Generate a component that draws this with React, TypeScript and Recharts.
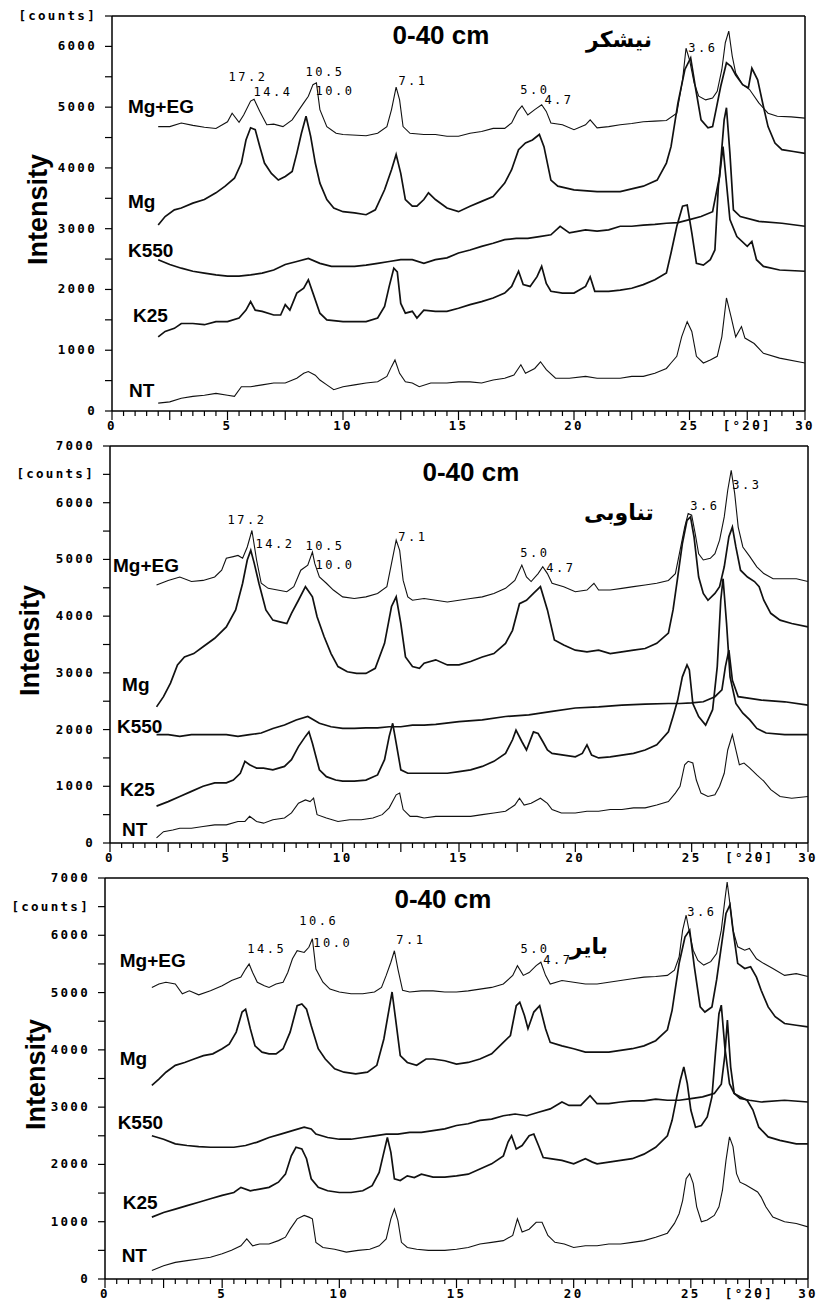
import React from 'react';
import { LineChart, Line, XAxis, YAxis, ReferenceLine, ReferenceDot } from 'recharts';

type Pt = [number, number];

// ---- panel 1 (نیشکر) : [2theta, counts]
const p1MgEG: Pt[] = [[2.0,4680],[2.5,4680],[3.0,4740],[3.5,4700],[4.0,4670],[4.5,4650],[5.0,4760],[5.2,4900],[5.5,4750],[5.7,4870],[6.0,5100],[6.15,5130],[6.4,4930],[6.7,4710],[7.0,4720],[7.4,4680],[7.8,4790],[8.1,4960],[8.3,5070],[8.5,5180],[8.7,5370],[8.85,5400],[9.0,4960],[9.3,4680],[9.7,4570],[10.0,4550],[11.0,4530],[11.5,4570],[11.9,4680],[12.1,4960],[12.3,5330],[12.45,5120],[12.6,4680],[12.9,4570],[13.5,4550],[14.0,4550],[14.5,4520],[15.0,4520],[15.5,4570],[16.0,4600],[16.5,4650],[17.0,4650],[17.3,4740],[17.55,4930],[17.75,5020],[18.0,4870],[18.3,4960],[18.6,5040],[18.8,4930],[19.0,4740],[19.5,4710],[20.0,4630],[20.5,4710],[20.7,4790],[21.0,4660],[21.5,4680],[22.0,4710],[22.5,4730],[23.0,4760],[23.5,4770],[24.0,4780],[24.45,4900],[24.7,5450],[24.85,5970],[25.0,5780],[25.2,5400],[25.4,5180],[25.7,5120],[26.0,5150],[26.2,5260],[26.4,5620],[26.55,6060],[26.7,6250],[26.85,5840],[27.0,5560],[27.3,5370],[27.6,5290],[28.0,5070],[28.4,4900],[28.8,4850],[29.4,4840],[30.0,4820]];
const p1Mg: Pt[] = [[2.0,3060],[2.3,3200],[2.7,3310],[3.0,3340],[3.5,3420],[4.0,3480],[4.5,3590],[4.9,3700],[5.3,3830],[5.6,4080],[5.8,4460],[6.0,4660],[6.2,4630],[6.4,4350],[6.6,4080],[6.9,3910],[7.2,3800],[7.5,3860],[7.8,3940],[8.0,4240],[8.2,4570],[8.4,4850],[8.6,4520],[8.8,4080],[9.0,3750],[9.3,3480],[9.6,3340],[10.0,3280],[10.5,3260],[11.0,3230],[11.4,3310],[11.8,3640],[12.1,3970],[12.3,4220],[12.5,3910],[12.7,3480],[13.0,3370],[13.2,3370],[13.5,3480],[13.7,3590],[14.0,3480],[14.5,3340],[15.0,3280],[15.5,3370],[16.0,3450],[16.5,3530],[17.0,3750],[17.3,3970],[17.6,4300],[17.9,4410],[18.2,4460],[18.5,4550],[18.7,4350],[19.0,3800],[19.3,3700],[20.0,3640],[21.0,3610],[22.0,3610],[23.0,3700],[23.6,3800],[24.0,4080],[24.2,4350],[24.5,5070],[24.8,5620],[25.05,5810],[25.25,5340],[25.5,4790],[25.8,4660],[26.0,4680],[26.15,4960],[26.35,5340],[26.6,5730],[26.8,5670],[27.0,5530],[27.3,5370],[27.55,5320],[27.7,5640],[27.95,5450],[28.2,5010],[28.4,4680],[28.7,4410],[29.0,4300],[29.5,4270],[30.0,4240]];
const p1K550: Pt[] = [[2.0,2490],[2.5,2410],[3.0,2350],[3.5,2300],[4.0,2270],[4.5,2240],[5.0,2220],[5.5,2220],[6.0,2240],[6.5,2270],[7.0,2320],[7.5,2410],[8.0,2460],[8.5,2510],[9.0,2430],[9.5,2380],[10.0,2380],[10.5,2380],[11.0,2400],[11.5,2430],[12.0,2460],[12.5,2490],[13.0,2490],[13.5,2430],[14.0,2490],[14.5,2520],[15.0,2600],[15.5,2650],[16.0,2710],[16.5,2760],[17.0,2820],[17.5,2840],[18.0,2840],[18.5,2870],[19.0,2900],[19.4,3040],[19.8,2930],[20.5,2980],[21.0,2960],[21.5,2980],[22.0,3040],[22.5,3040],[23.0,3060],[23.5,3070],[24.0,3090],[24.5,3100],[25.0,3150],[25.5,3200],[26.0,3280],[26.3,3860],[26.5,4790],[26.6,4990],[26.75,4240],[26.9,3310],[27.2,3200],[28.0,3120],[29.0,3090],[30.0,3040]];
const p1K25: Pt[] = [[2.0,1220],[2.3,1310],[2.7,1360],[3.0,1440],[3.5,1440],[4.0,1420],[4.5,1470],[5.0,1470],[5.5,1530],[5.8,1660],[6.0,1800],[6.2,1660],[6.5,1640],[7.0,1580],[7.3,1580],[7.5,1750],[7.7,1660],[8.0,1940],[8.3,2020],[8.5,2160],[8.7,1940],[9.0,1610],[9.3,1500],[10.0,1470],[10.5,1470],[11.0,1470],[11.5,1530],[11.8,1720],[12.0,2050],[12.2,2350],[12.35,2290],[12.5,1770],[12.7,1610],[13.0,1640],[13.2,1530],[13.5,1660],[14.0,1640],[14.5,1640],[15.0,1690],[15.5,1750],[16.0,1800],[16.5,1860],[17.0,1940],[17.3,2050],[17.6,2300],[17.8,2080],[18.1,2050],[18.4,2210],[18.6,2380],[18.8,2100],[19.0,1970],[19.5,1940],[20.0,1940],[20.5,2050],[20.7,2210],[20.9,1970],[21.5,1970],[22.0,1990],[22.5,2020],[23.0,2080],[23.5,2160],[24.0,2270],[24.2,2600],[24.45,3040],[24.7,3370],[24.9,3390],[25.1,2930],[25.3,2430],[25.6,2400],[25.9,2490],[26.1,2650],[26.25,3700],[26.45,4350],[26.75,3150],[27.05,2870],[27.5,2710],[27.7,2790],[27.9,2490],[28.2,2380],[28.9,2320],[30.0,2300]];
const p1NT: Pt[] = [[2.0,130],[2.5,150],[3.0,210],[3.5,240],[4.0,260],[4.5,290],[5.0,260],[5.3,240],[5.6,400],[6.0,400],[6.5,430],[7.0,460],[7.5,460],[8.0,540],[8.3,620],[8.5,650],[8.8,590],[9.0,510],[9.3,430],[9.6,350],[10.0,400],[10.5,430],[11.0,460],[11.5,480],[11.9,570],[12.1,730],[12.25,840],[12.45,620],[12.7,480],[13.0,460],[13.3,400],[13.8,460],[14.5,460],[15.0,480],[15.5,480],[16.0,460],[16.5,510],[17.0,540],[17.4,590],[17.7,760],[17.9,620],[18.3,700],[18.55,810],[18.8,680],[19.2,540],[19.8,540],[20.5,570],[21.0,540],[21.5,540],[22.0,540],[22.5,570],[23.0,570],[23.5,620],[24.0,700],[24.2,790],[24.45,900],[24.66,1220],[24.9,1470],[25.1,1310],[25.3,900],[25.6,790],[25.9,840],[26.2,900],[26.4,1220],[26.6,1860],[26.8,1550],[27.0,1220],[27.25,1390],[27.4,1200],[27.8,1110],[28.2,950],[28.9,870],[30.0,790]];

// ---- panel 2 (تناوبی)
const p2MgEG: Pt[] = [[2.0,4550],[2.5,4630],[3.0,4690],[3.5,4610],[4.0,4630],[4.5,4690],[4.8,4810],[5.0,5020],[5.3,5050],[5.5,5070],[5.7,5020],[5.9,5220],[6.1,5510],[6.3,4990],[6.5,4580],[6.8,4490],[7.2,4460],[7.6,4430],[7.9,4520],[8.2,4810],[8.5,4900],[8.7,5130],[8.8,4930],[9.0,4690],[9.3,4580],[9.6,4460],[10.0,4340],[10.5,4310],[11.0,4340],[11.5,4400],[11.9,4520],[12.1,4930],[12.3,5340],[12.45,5160],[12.6,4630],[12.8,4340],[13.0,4280],[13.5,4310],[14.0,4280],[14.5,4250],[15.0,4280],[15.5,4310],[16.0,4340],[16.5,4400],[17.0,4490],[17.4,4630],[17.7,4900],[17.9,4690],[18.1,4610],[18.4,4750],[18.6,4870],[18.8,4750],[19.0,4580],[19.5,4520],[20.0,4430],[20.5,4460],[20.8,4580],[21.0,4460],[21.5,4460],[22.0,4490],[22.5,4520],[23.0,4550],[23.5,4580],[24.0,4630],[24.3,4750],[24.5,5160],[24.7,5570],[24.85,5810],[25.0,5780],[25.15,5460],[25.3,5100],[25.5,4990],[25.8,5020],[26.0,5100],[26.2,5340],[26.4,5750],[26.55,6220],[26.7,6570],[26.85,6160],[27.0,5570],[27.2,5220],[27.5,5050],[27.8,4870],[28.1,4750],[28.5,4660],[29.0,4660],[29.5,4660],[30.0,4610]];
const p2Mg: Pt[] = [[2.0,2400],[2.3,2580],[2.6,2820],[2.9,3140],[3.2,3280],[3.6,3340],[4.0,3460],[4.5,3610],[5.0,3810],[5.4,4110],[5.7,4580],[5.9,4990],[6.05,5160],[6.2,4930],[6.4,4580],[6.7,4110],[7.0,3930],[7.3,3900],[7.6,3870],[7.8,4050],[8.1,4280],[8.4,4520],[8.7,4340],[8.9,3990],[9.2,3640],[9.5,3340],[9.8,3110],[10.2,3020],[10.6,2990],[11.0,2990],[11.4,3080],[11.8,3520],[12.1,4170],[12.3,4340],[12.5,3870],[12.7,3280],[13.0,3110],[13.3,3080],[13.5,3170],[14.0,3230],[14.5,3140],[15.0,3140],[15.5,3200],[16.0,3280],[16.5,3340],[17.0,3520],[17.3,3750],[17.6,4220],[17.9,4280],[18.2,4400],[18.5,4520],[18.8,4110],[19.1,3580],[19.5,3490],[20.0,3400],[20.5,3370],[21.0,3400],[21.5,3340],[22.0,3370],[22.5,3400],[23.0,3430],[23.5,3520],[24.0,3700],[24.2,4110],[24.4,4690],[24.6,5280],[24.8,5690],[24.95,5750],[25.1,5400],[25.3,4690],[25.5,4400],[25.7,4280],[26.0,4400],[26.2,4520],[26.4,4870],[26.6,5400],[26.75,5570],[26.9,5220],[27.1,4810],[27.4,4690],[27.7,4610],[27.9,4520],[28.1,4280],[28.4,4050],[28.8,3930],[29.3,3870],[30.0,3810]];
const p2K550: Pt[] = [[2.0,1910],[2.5,1910],[3.0,1880],[3.5,1910],[4.0,1910],[4.5,1910],[5.0,1910],[5.5,1880],[6.0,1910],[6.5,1940],[7.0,2020],[7.5,2080],[8.0,2170],[8.5,2230],[9.0,2110],[9.5,2050],[10.0,2020],[10.5,2020],[11.0,2030],[11.5,2030],[12.0,2050],[12.5,2050],[13.0,2080],[13.5,2080],[14.0,2090],[15.0,2140],[16.0,2170],[17.0,2230],[18.0,2260],[19.0,2320],[20.0,2380],[21.0,2400],[22.0,2430],[23.0,2450],[24.0,2460],[24.5,2460],[25.0,2470],[25.5,2490],[26.0,2580],[26.3,2700],[26.45,3110],[26.6,3400],[26.75,2870],[27.0,2580],[27.5,2550],[28.0,2520],[29.0,2490],[30.0,2430]];
const p2K25: Pt[] = [[2.0,650],[2.5,730],[3.0,820],[3.5,910],[4.0,1000],[4.5,1060],[5.0,1060],[5.3,1110],[5.6,1230],[5.8,1440],[6.0,1380],[6.3,1320],[6.6,1320],[7.0,1290],[7.5,1350],[7.8,1470],[8.1,1700],[8.4,1880],[8.55,1960],[8.7,1760],[9.0,1290],[9.3,1170],[9.7,1110],[10.0,1090],[10.5,1090],[11.0,1110],[11.5,1200],[11.8,1470],[12.0,1880],[12.15,2110],[12.3,1760],[12.5,1290],[12.8,1230],[13.0,1230],[13.5,1230],[14.0,1230],[14.5,1230],[15.0,1260],[15.5,1290],[16.0,1350],[16.5,1440],[17.0,1580],[17.3,1820],[17.45,1990],[17.7,1790],[17.9,1640],[18.2,1960],[18.4,1930],[18.6,1790],[18.8,1640],[19.0,1580],[19.5,1550],[20.0,1520],[20.3,1580],[20.5,1730],[20.7,1550],[21.0,1500],[21.5,1520],[22.0,1550],[22.5,1580],[23.0,1640],[23.5,1730],[24.0,1960],[24.2,2230],[24.4,2520],[24.6,2930],[24.8,3140],[24.9,3050],[25.05,2460],[25.3,2230],[25.6,2080],[25.9,2350],[26.1,3110],[26.25,4280],[26.35,4660],[26.5,3870],[26.65,2930],[26.9,2460],[27.2,2290],[27.5,2170],[27.8,2020],[28.2,1940],[29.0,1910],[30.0,1910]];
const p2NT: Pt[] = [[2.0,90],[2.3,200],[2.7,230],[3.0,260],[3.5,260],[4.0,290],[4.5,320],[5.0,320],[5.5,380],[5.8,380],[6.0,470],[6.3,380],[6.6,350],[7.0,410],[7.5,440],[7.8,530],[8.1,700],[8.4,760],[8.6,730],[8.75,790],[8.9,500],[9.3,440],[9.8,380],[10.3,410],[10.8,410],[11.3,440],[11.7,500],[12.0,620],[12.3,850],[12.45,880],[12.6,590],[12.9,470],[13.2,470],[13.5,440],[14.0,470],[14.5,470],[15.0,470],[15.5,470],[16.0,500],[16.5,530],[17.0,560],[17.4,670],[17.6,790],[17.8,670],[18.1,700],[18.5,790],[18.8,700],[19.0,590],[19.4,530],[20.0,530],[20.5,560],[21.0,560],[21.5,590],[22.0,590],[22.5,620],[23.0,620],[23.5,670],[24.0,730],[24.3,880],[24.5,1000],[24.7,1380],[24.85,1440],[25.05,1410],[25.2,1110],[25.4,880],[25.7,820],[26.0,850],[26.2,1000],[26.4,1230],[26.55,1640],[26.75,1910],[26.9,1640],[27.05,1380],[27.25,1410],[27.5,1320],[27.8,1200],[28.1,1090],[28.4,940],[28.8,820],[29.3,790],[30.0,820]];

// ---- panel 3 (بایر)
const p3MgEG: Pt[] = [[2.0,5090],[2.3,5150],[2.6,5180],[3.0,5150],[3.3,4980],[3.6,5030],[4.0,4960],[4.5,5030],[5.0,5120],[5.4,5210],[5.8,5270],[6.0,5410],[6.15,5500],[6.3,5350],[6.5,5180],[6.8,5120],[7.0,5090],[7.3,5150],[7.6,5180],[7.8,5350],[8.0,5590],[8.2,5730],[8.5,5700],[8.7,5790],[8.85,5940],[9.0,5410],[9.3,5180],[9.6,5060],[10.0,5010],[10.5,4980],[11.0,4980],[11.5,5010],[11.8,5090],[12.0,5300],[12.2,5530],[12.35,5730],[12.5,5410],[12.7,5040],[13.0,5010],[13.5,5030],[14.0,5030],[14.5,5010],[15.0,5010],[15.5,5030],[16.0,5060],[16.5,5090],[17.0,5150],[17.4,5300],[17.6,5470],[17.85,5300],[18.1,5350],[18.4,5470],[18.6,5530],[18.8,5300],[19.0,5150],[19.5,5210],[20.0,5180],[20.5,5150],[21.0,5150],[21.5,5180],[22.0,5210],[22.5,5240],[23.0,5270],[23.5,5280],[24.0,5300],[24.3,5390],[24.5,5620],[24.65,6090],[24.8,6350],[24.95,6030],[25.1,5740],[25.3,5560],[25.55,5480],[25.85,5540],[26.1,5680],[26.3,6090],[26.45,6610],[26.55,6930],[26.65,6610],[26.8,6090],[27.0,5800],[27.3,5740],[27.5,5770],[27.8,5590],[28.1,5510],[28.5,5420],[29.0,5300],[29.5,5330],[30.0,5280]];
const p3Mg: Pt[] = [[2.0,3380],[2.3,3490],[2.6,3610],[3.0,3730],[3.4,3780],[3.8,3840],[4.2,3900],[4.6,3930],[5.0,4020],[5.3,4100],[5.6,4310],[5.85,4660],[6.0,4710],[6.2,4370],[6.4,4070],[6.7,3960],[7.0,3930],[7.3,3930],[7.6,4020],[7.9,4310],[8.2,4770],[8.4,4800],[8.6,4710],[8.8,4420],[9.1,4020],[9.4,3840],[9.8,3670],[10.2,3610],[10.7,3580],[11.2,3610],[11.6,3730],[11.9,4190],[12.1,4660],[12.25,5010],[12.4,4540],[12.6,3900],[12.9,3780],[13.3,3730],[13.7,3840],[14.0,3840],[14.5,3810],[15.0,3750],[15.5,3780],[16.0,3840],[16.5,3930],[17.0,4130],[17.3,4250],[17.55,4770],[17.7,4830],[17.9,4600],[18.05,4370],[18.3,4660],[18.55,4770],[18.8,4370],[19.0,4130],[19.5,4070],[20.0,4020],[20.5,3960],[21.0,3960],[21.5,3960],[22.0,3990],[22.5,4020],[23.0,4070],[23.5,4160],[24.0,4350],[24.2,4690],[24.5,5510],[24.75,5970],[24.95,6090],[25.15,5450],[25.4,4750],[25.6,4660],[25.9,4750],[26.1,5220],[26.3,5800],[26.5,6380],[26.67,6530],[26.8,6090],[27.0,5510],[27.3,5420],[27.55,5450],[27.8,5270],[28.0,5040],[28.3,4750],[28.6,4580],[29.0,4460],[29.5,4430],[30.0,4400]];
const p3K550: Pt[] = [[2.0,2500],[2.5,2440],[3.0,2360],[3.5,2330],[4.0,2310],[4.5,2300],[5.0,2300],[5.5,2300],[6.0,2330],[6.5,2390],[7.0,2470],[7.5,2530],[8.0,2590],[8.5,2650],[8.8,2620],[9.0,2530],[9.5,2470],[10.0,2440],[10.5,2440],[11.0,2470],[11.5,2500],[12.0,2530],[12.5,2530],[13.0,2560],[13.5,2560],[14.0,2590],[14.5,2620],[15.0,2680],[15.5,2710],[16.0,2770],[16.5,2790],[17.0,2850],[17.5,2880],[18.0,2850],[18.5,2910],[19.0,2970],[19.5,3090],[19.8,3030],[20.3,3030],[20.7,3200],[21.0,3060],[21.5,3060],[22.0,3090],[22.5,3110],[23.0,3110],[23.5,3140],[24.0,3120],[24.5,3120],[25.0,3150],[25.5,3180],[26.0,3240],[26.3,3400],[26.45,3900],[26.56,4520],[26.7,3700],[26.85,3240],[27.1,3150],[27.5,3120],[28.0,3090],[29.0,3120],[30.0,3090]];
const p3K25: Pt[] = [[2.0,1080],[2.5,1160],[3.0,1220],[3.5,1280],[4.0,1340],[4.5,1400],[5.0,1460],[5.5,1510],[5.8,1600],[6.2,1540],[6.6,1570],[7.0,1600],[7.4,1690],[7.7,1830],[7.95,2150],[8.15,2300],[8.4,2270],[8.6,2100],[8.8,1750],[9.1,1600],[9.5,1540],[10.0,1510],[10.5,1510],[11.0,1540],[11.4,1630],[11.7,1860],[11.9,2210],[12.05,2470],[12.2,2210],[12.35,1750],[12.6,1720],[12.9,1800],[13.2,1770],[13.5,1830],[14.0,1780],[14.5,1780],[15.0,1800],[15.5,1830],[16.0,1920],[16.5,2010],[17.0,2150],[17.2,2390],[17.35,2500],[17.55,2270],[17.8,2330],[18.1,2500],[18.3,2530],[18.5,2330],[18.7,2120],[19.0,2100],[19.5,2070],[20.0,2010],[20.5,2100],[20.8,2040],[21.0,2010],[21.5,2040],[22.0,2070],[22.5,2100],[23.0,2180],[23.5,2300],[24.0,2500],[24.2,2770],[24.4,3180],[24.55,3470],[24.7,3700],[24.85,3410],[25.0,2950],[25.2,2650],[25.45,2680],[25.7,2830],[25.9,3180],[26.05,3940],[26.2,4630],[26.3,4780],[26.45,4050],[26.65,3410],[26.85,3240],[27.1,3180],[27.4,3120],[27.65,2950],[27.9,2650],[28.3,2480],[28.8,2420],[29.5,2360],[30.0,2360]];
const p3NT: Pt[] = [[2.0,150],[2.5,230],[3.0,290],[3.5,320],[4.0,350],[4.5,380],[5.0,440],[5.4,500],[5.8,580],[6.05,700],[6.3,580],[6.6,610],[7.0,610],[7.4,670],[7.7,730],[7.9,870],[8.2,1050],[8.5,1110],[8.7,1080],[8.85,1050],[9.0,640],[9.3,550],[9.8,520],[10.3,470],[10.8,500],[11.3,520],[11.7,580],[12.0,700],[12.2,1050],[12.35,1220],[12.5,1020],[12.65,640],[12.9,550],[13.3,520],[13.8,500],[14.5,500],[15.0,520],[15.5,550],[16.0,610],[16.5,640],[17.0,670],[17.4,760],[17.6,1050],[17.8,820],[18.1,870],[18.4,990],[18.65,990],[18.9,760],[19.2,640],[19.6,610],[20.0,550],[20.5,580],[21.0,580],[21.5,610],[22.0,610],[22.5,640],[23.0,670],[23.5,730],[24.0,800],[24.3,970],[24.5,1140],[24.65,1370],[24.8,1750],[24.95,1840],[25.1,1670],[25.25,1260],[25.45,1000],[25.7,1030],[26.0,1110],[26.2,1260],[26.35,1550],[26.5,2070],[26.65,2480],[26.8,2310],[26.95,1840],[27.1,1690],[27.35,1640],[27.6,1580],[27.85,1520],[28.0,1430],[28.2,1260],[28.5,1080],[29.0,1000],[29.5,970],[30.0,910]];

// trace names, in drawing order, and where their names sit (left edge)
const traceNames = ['Mg+EG', 'Mg', 'K550', 'K25', 'NT'];
const p1NameSpots: Pt[] = [[0.69,5010],[0.69,3440],[0.69,2640],[0.91,1570],[0.74,330]];
const p2NameSpots: Pt[] = [[0.13,4900],[0.52,2790],[0.30,2060],[0.43,940],[0.52,230]];
const p3NameSpots: Pt[] = [[0.63,5560],[0.63,3850],[0.54,2740],[0.76,1340],[0.71,410]];

// d-spacing notes (Å) over the peaks
const p1Peaks = [
  { text: '17.2', t: 5.89, c: 5490 }, { text: '14.4', t: 6.97, c: 5250 },
  { text: '10.5', t: 9.22, c: 5580 }, { text: '10.0', t: 9.65, c: 5270 },
  { text: '7.1', t: 13.03, c: 5430 }, { text: '5.0', t: 18.31, c: 5290 },
  { text: '4.7', t: 19.35, c: 5120 }, { text: '3.6', t: 25.58, c: 5980 },
];
const p2Peaks = [
  { text: '17.2', t: 5.89, c: 5690 }, { text: '14.2', t: 7.09, c: 5270 },
  { text: '10.5', t: 9.24, c: 5230 }, { text: '10.0', t: 9.67, c: 4900 },
  { text: '7.1', t: 13.02, c: 5390 }, { text: '5.0', t: 18.26, c: 5110 },
  { text: '4.7', t: 19.38, c: 4850 }, { text: '3.6', t: 25.57, c: 5940 },
  { text: '3.3', t: 27.37, c: 6310 },
];
const p3Peaks = [
  { text: '14.5', t: 6.9, c: 5760 }, { text: '10.6', t: 9.12, c: 6250 },
  { text: '10.0', t: 9.72, c: 5860 }, { text: '7.1', t: 13.05, c: 5910 },
  { text: '5.0', t: 18.35, c: 5760 }, { text: '4.7', t: 19.33, c: 5560 },
  { text: '3.6', t: 25.47, c: 6400 },
];

const xTicks = Array.from({ length: 61 }, (_, i) => i * 0.5);
const yTicks6500 = Array.from({ length: 14 }, (_, i) => i * 500);
const yTicks7000 = Array.from({ length: 15 }, (_, i) => i * 500);

const panels = [
  { top: 0, yMax: 6500, yTicks: yTicks6500, axisW: 112, xAxisH: 29, right: 12, intensityX: 38,
    traces: [p1MgEG, p1Mg, p1K550, p1K25, p1NT], names: p1NameSpots, peaks: p1Peaks,
    title: [14.24, 6180] as Pt, site: 'نیشکر', siteAt: [21.95, 6110] as Pt },
  { top: 430, yMax: 7000, yTicks: yTicks7000, axisW: 110, xAxisH: 27, right: 9, intensityX: 30,
    traces: [p2MgEG, p2Mg, p2K550, p2K25, p2NT], names: p2NameSpots, peaks: p2Peaks,
    title: [15.51, 6535] as Pt, site: 'تناوبی', siteAt: [21.87, 5830] as Pt },
  { top: 862, yMax: 7000, yTicks: yTicks7000, axisW: 105, xAxisH: 23, right: 9, intensityX: 36,
    traces: [p3MgEG, p3Mg, p3K550, p3K25, p3NT], names: p3NameSpots, peaks: p3Peaks,
    title: [14.42, 6630] as Pt, site: 'بایر', siteAt: [20.65, 5810] as Pt },
];

const traceWidth = [1.1, 1.7, 1.7, 1.7, 1.1];

const MONO = '"DejaVu Sans Mono", "Liberation Mono", monospace';
const SANS = '"Liberation Sans", Arial, sans-serif';

const XTick = (props: any) => {
  const { x, y, payload } = props;
  const v = payload.value;
  const major = Math.abs(v / 2.5 - Math.round(v / 2.5)) < 1e-6;
  let label: string | null = null;
  if (v % 5 === 0) label = String(v);
  else if (v === 27.5) label = '[°2θ]';
  return (
    <g>
      <line x1={x} y1={y} x2={x} y2={y + (major ? 9 : 5)} stroke="#000" strokeWidth={1.2} />
      {label && (
        <text x={x} y={y + 19} textAnchor="middle" fontFamily={MONO} fontWeight="bold"
          fontSize={12.5} letterSpacing={2.3} fill="#000">{label}</text>
      )}
    </g>
  );
};

const YTick = (props: any) => {
  const { x, y, payload } = props;
  const v = payload.value;
  let label: string | null = null;
  if (v % 1000 === 0) label = String(v);
  else if (v === 6500) label = '[counts]';
  return (
    <g>
      <line x1={x - 7} y1={y} x2={x} y2={y} stroke="#000" strokeWidth={1.2} />
      {label && (
        <text x={x - 15} y={y + 4} textAnchor="end" fontFamily={MONO} fontWeight="bold"
          fontSize={12.5} letterSpacing={2.3} fill="#000">{label}</text>
      )}
    </g>
  );
};

// text hung on a data point
const tag = (text: string, style: any) => (p: any) => {
  const vb = p.viewBox;
  return (
    <text x={vb.x + vb.width / 2} y={vb.y + vb.height / 2} dominantBaseline="central" fill="#000" {...style}>
      {text}
    </text>
  );
};

const Panel = ({ cfg }: { cfg: typeof panels[number] }) => (
  <div style={{ position: 'absolute', left: 0, top: cfg.top }}>
    <LineChart width={817} height={440} margin={{ top: 16, right: cfg.right, bottom: 0, left: 0 }}>
      <XAxis dataKey="t" type="number" domain={[0, 30]} ticks={xTicks} interval={0}
        allowDataOverflow tickSize={0} tickMargin={0} tickLine={false} tick={XTick}
        axisLine={{ stroke: '#000', strokeWidth: 1.5 }} height={cfg.xAxisH} />
      <YAxis type="number" domain={[0, cfg.yMax]} ticks={cfg.yTicks} interval={0}
        allowDataOverflow tickSize={0} tickMargin={0} tickLine={false} tick={YTick}
        axisLine={{ stroke: '#000', strokeWidth: 1.5 }} width={cfg.axisW}
        label={{
          content: (p: any) => {
            const vb = p.viewBox;
            const cy = vb.y + vb.height / 2 - 4;
            return (
              <text x={cfg.intensityX} y={cy} transform={`rotate(-90 ${cfg.intensityX} ${cy})`}
                textAnchor="middle" dominantBaseline="central" fontFamily={SANS} fontWeight="bold"
                fontSize={27} fill="#000">Intensity</text>
            );
          },
        }} />
      <ReferenceLine x={30} stroke="#000" strokeWidth={1.5} />
      <ReferenceLine y={cfg.yMax} stroke="#000" strokeWidth={1.5} />
      {cfg.traces.map((tr, i) => (
        <Line key={traceNames[i]} data={tr.map(([t, c]) => ({ t, c }))} dataKey="c" type="linear"
          stroke="#111" strokeWidth={traceWidth[i]} dot={false} isAnimationActive={false} />
      ))}
      {cfg.names.map(([t, c], i) => (
        <ReferenceDot key={'n' + i} x={t} y={c} r={1} fill="none" stroke="none"
          label={tag(traceNames[i], { textAnchor: 'start', fontFamily: SANS, fontWeight: 'bold', fontSize: 19 })} />
      ))}
      {cfg.peaks.map((pk, i) => (
        <ReferenceDot key={'p' + i} x={pk.t} y={pk.c} r={1} fill="none" stroke="none"
          label={tag(pk.text, { textAnchor: 'middle', fontFamily: MONO, fontSize: 12, letterSpacing: 2.5 })} />
      ))}
      <ReferenceDot x={cfg.title[0]} y={cfg.title[1]} r={1} fill="none" stroke="none"
        label={tag('0-40 cm', { textAnchor: 'middle', fontFamily: SANS, fontWeight: 'bold', fontSize: 26 })} />
      <ReferenceDot x={cfg.siteAt[0]} y={cfg.siteAt[1]} r={1} fill="none" stroke="none"
        label={tag(cfg.site, { textAnchor: 'middle', fontFamily: '"DejaVu Sans", sans-serif', fontWeight: 'bold', fontSize: 22, direction: 'rtl' })} />
    </LineChart>
  </div>
);

export default function App() {
  return (
    <div style={{ position: 'absolute', left: 0, top: 0, width: 817, height: 1302, background: '#fff' }}>
      {panels.map((cfg, i) => (
        <Panel key={i} cfg={cfg} />
      ))}
    </div>
  );
}
